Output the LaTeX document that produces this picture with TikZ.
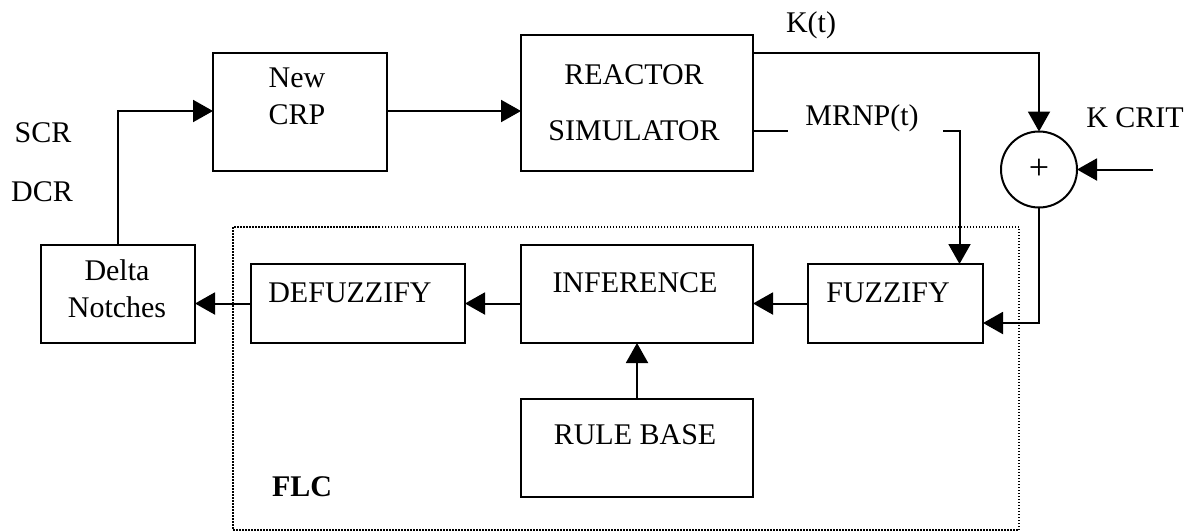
\documentclass[tikz,border=0pt]{standalone}
\usepackage{fontspec}
\setmainfont{Liberation Serif}
\usetikzlibrary{arrows.meta}
\begin{document}
\begin{tikzpicture}[x=0.5pt,y=-0.5pt,
  box/.style={draw,line width=1pt,rectangle,inner sep=0pt,outer sep=0pt},
  txt/.style={inner sep=0pt,align=center,font=\fontsize{15}{18.5}\selectfont},
  arr/.style={line width=1pt,-{Triangle[length=10pt,width=11pt]}},
  ln/.style={line width=1pt},
  flcbox/.style={draw,line width=0.75pt,dash pattern=on 0.75pt off 0.75pt,inner sep=0pt,outer sep=0pt}]
\useasboundingbox (0,0) rectangle (1204,531);
% frame of the FLC
\node[flcbox,minimum width=393pt,minimum height=151.5pt] (flc) at (626,378.5) {};
% boxes
\node[box,minimum width=87pt,minimum height=59pt] (crp) at (300,112) {};
\node[box,minimum width=116pt,minimum height=68pt] (reactor) at (637,103) {};
\node[box,minimum width=77pt,minimum height=49pt] (delta) at (118,294) {};
\node[box,minimum width=107pt,minimum height=39.5pt] (defuzz) at (358,303.5) {};
\node[box,minimum width=116pt,minimum height=49pt] (inference) at (637,294) {};
\node[box,minimum width=87.5pt,minimum height=39.5pt] (fuzzify) at (895.5,303.5) {};
\node[box,minimum width=116pt,minimum height=49pt] (rulebase) at (637,448) {};
\node[draw,circle,line width=1pt,minimum size=38pt,inner sep=0pt,outer sep=0pt,font=\fontsize{18}{20}\selectfont] (sum) at (1039,169.5) {+};
% texts
\node[txt] (crpt) at (297,96.5) {New\\CRP};
\node[txt] (reactort) at (634,103) {REACTOR\\[9.5pt]SIMULATOR};
\node[txt] (deltat) at (117,288.5) {Delta\\Notches};
\node[txt] (defuzzt) at (350,293) {DEFUZZIFY};
\node[txt] (inferencet) at (635,283) {INFERENCE};
\node[txt] (fuzzifyt) at (888,293) {FUZZIFY};
\node[txt] (rulebaset) at (635,435) {RULE BASE};
\node[txt] (kt) at (811,25) {K(t)};
\node[txt] (mrnp) at (862,118) {MRNP(t)};
\node[txt] (kcrit) at (1135,118) {K CRIT};
\node[txt] (scr) at (43,133) {SCR};
\node[txt] (dcr) at (42,192) {DCR};
\node[txt,font=\fontsize{15}{18.5}\selectfont\bfseries] (flct) at (302,487) {FLC};
% connector points
\coordinate (m1) at (788,131);
\coordinate (m2) at (943,131);
\coordinate (kc) at (1153,169.5);
% connectors
\draw[arr] (delta.north) |- ([yshift=0.5pt]crp.west);
\draw[arr] ([yshift=0.5pt]crp.east) -- ([yshift=0.5pt]crp.east -| reactor.west);
\draw[arr] ([yshift=-9pt]reactor.north east) -| (sum.north);
\draw[ln] ([yshift=-14pt]reactor.east) -- (m1);
\draw[arr] (m2) -| ([xshift=32pt]fuzzify.north);
\draw[arr] (kc) -- (sum.east);
\draw[arr] (sum.south) |- ([yshift=-9.75pt]fuzzify.east);
\draw[arr] (fuzzify.west) -- (fuzzify.west -| inference.east);
\draw[arr] (inference.west |- defuzz.east) -- (defuzz.east);
\draw[arr] (defuzz.west) -- (defuzz.west -| delta.east);
\draw[arr] (rulebase.north) -- (inference.south);
\end{tikzpicture}
\end{document}
